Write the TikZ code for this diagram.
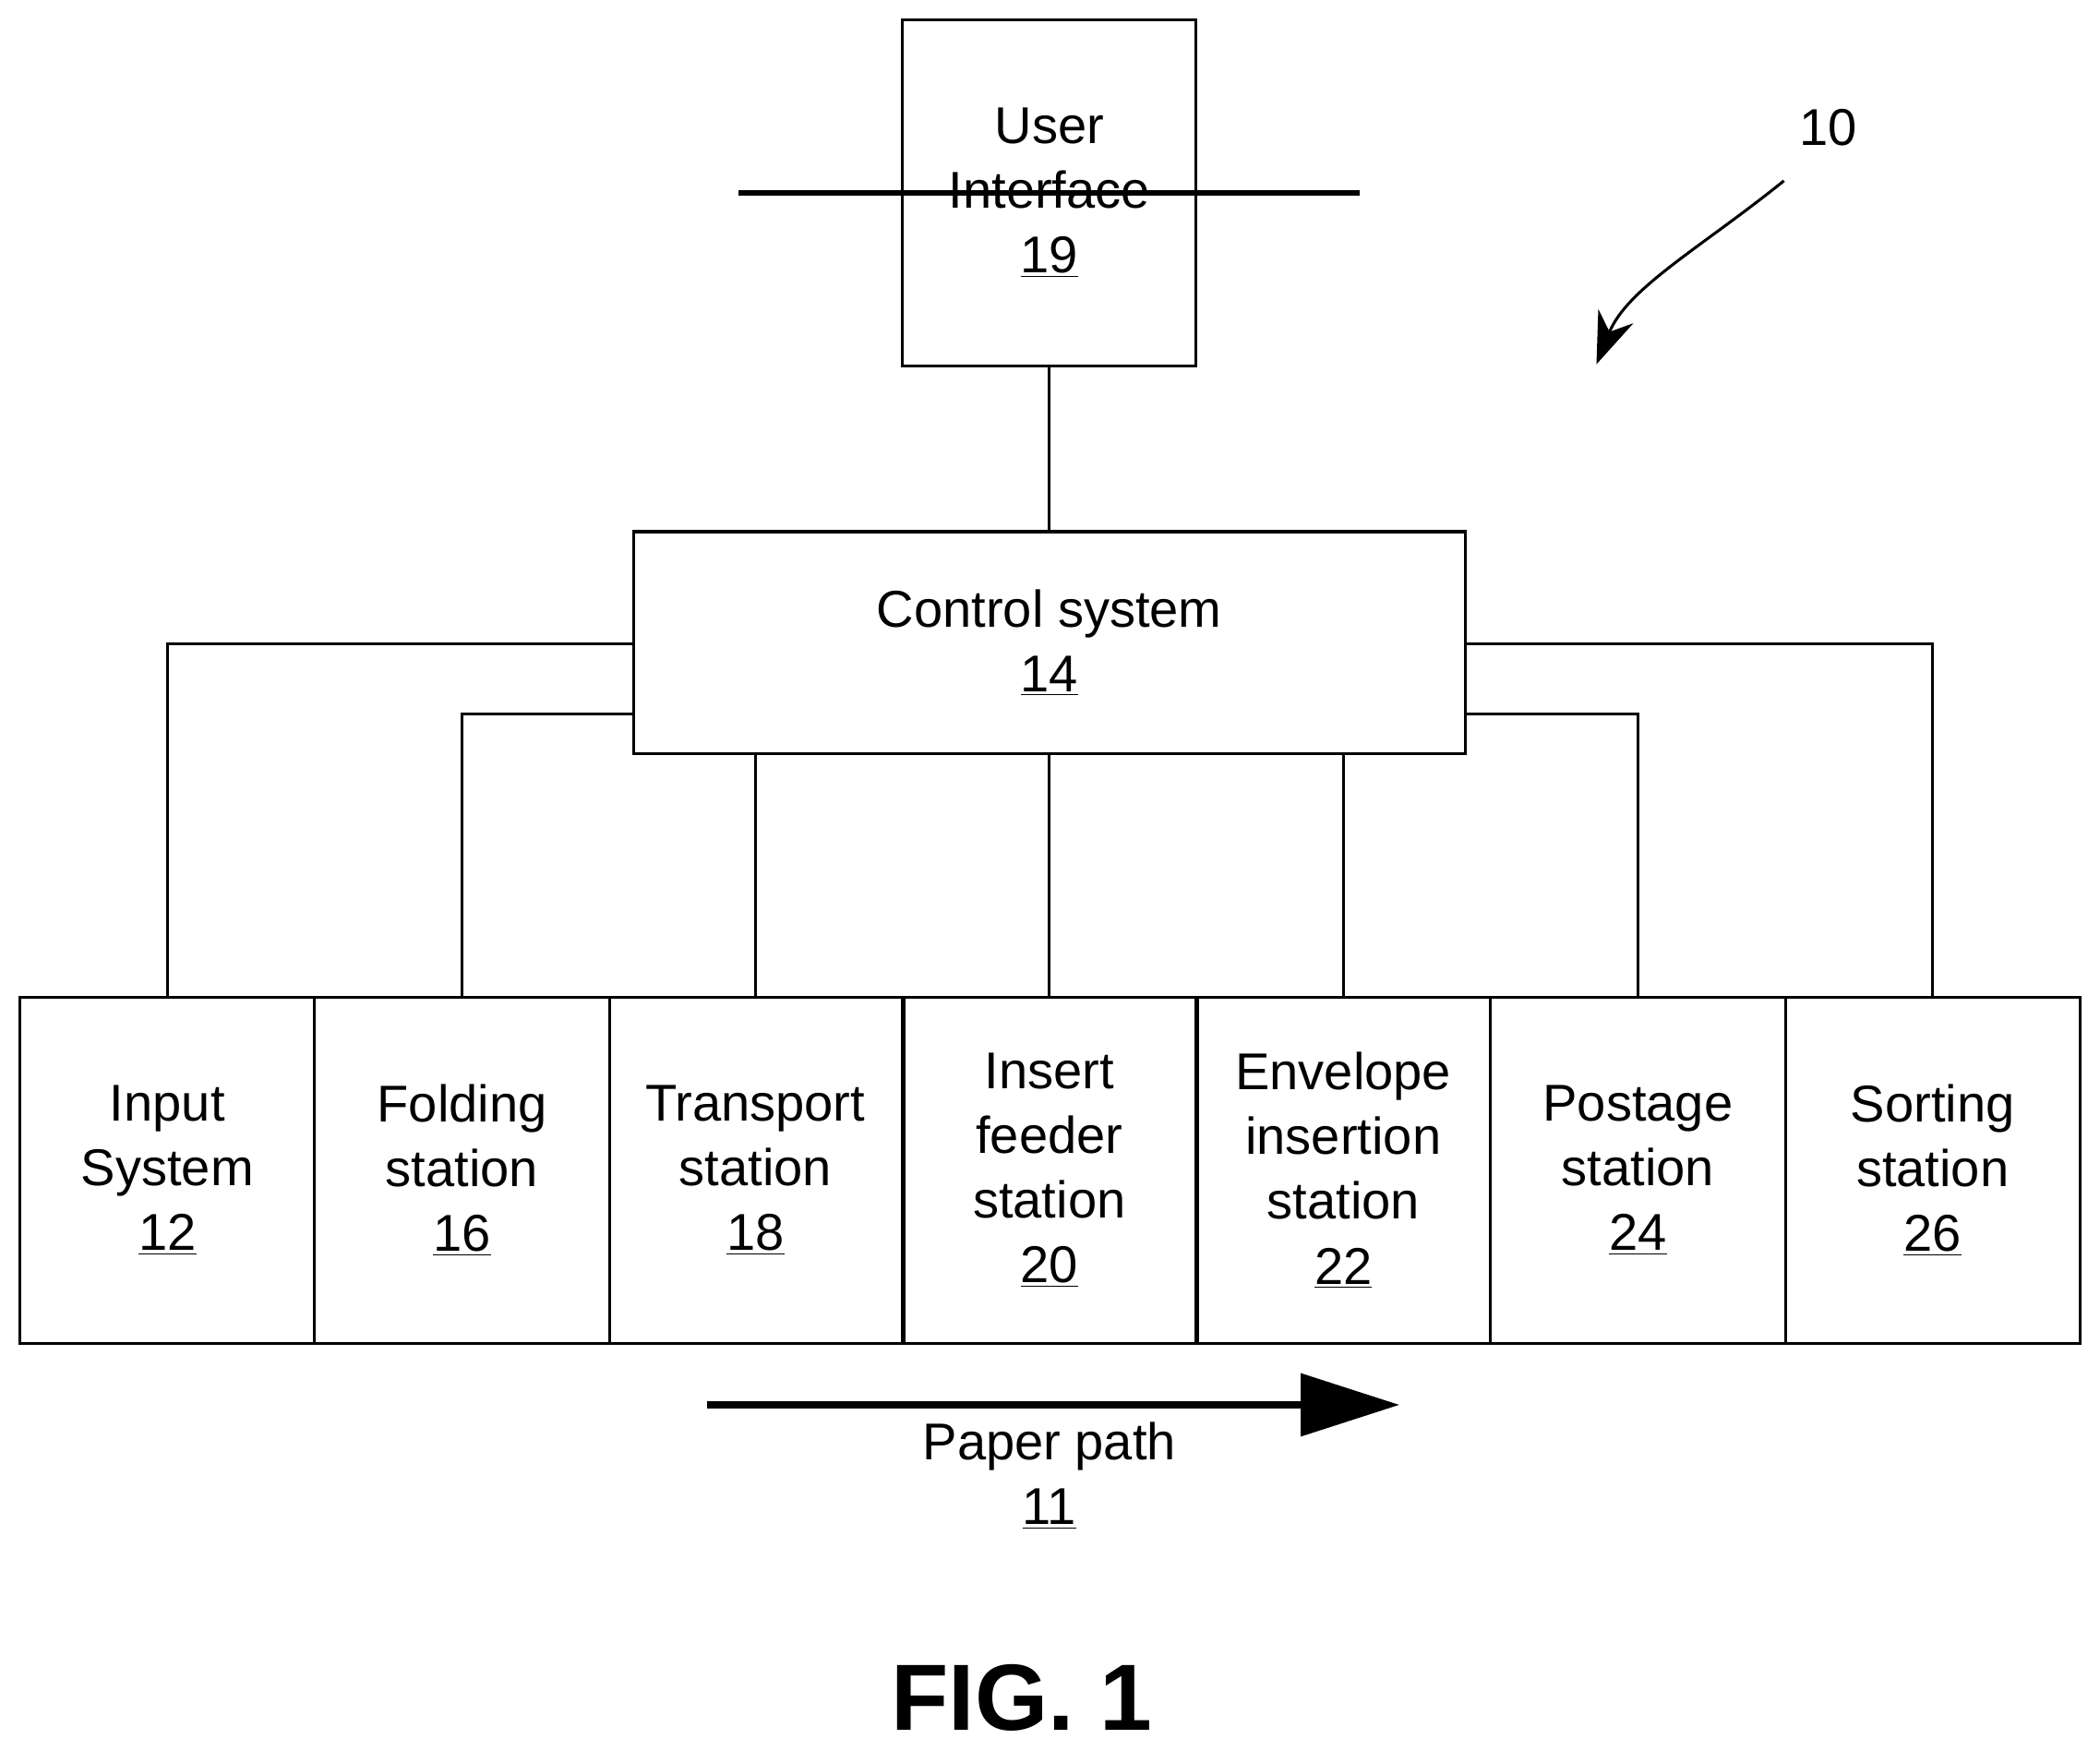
\documentclass[tikz,border=0pt]{standalone}
\usepackage{fontspec}
\setmainfont{Liberation Sans}
\usetikzlibrary{arrows.meta}
\begin{document}
\begin{tikzpicture}[x=0.02cm, y=-0.02cm,
	box/.style={draw, line width=1.2pt, inner sep=0pt, align=center,
		font=\fontsize{22}{27.5}\selectfont},
	txt/.style={align=center, font=\fontsize{22}{27.5}\selectfont}]
	\useasboundingbox (0,0) rectangle (1568,1307);
	\node[box, minimum width=219\pgflinewidth, text width=200] (UI) at (783.5,144) {};
	\draw[line width=1.2pt] (674,15) rectangle (893,273);
	\node[txt] (UIt) at (783.5,144) {User\\Interface\\\underline{19}};
	\draw[line width=1.2pt] (473,397) rectangle (1094,563);
	\node[txt] (CS) at (783.5,480) {Control system\\\underline{14}};
	\node[txt] (A) at (125,874) {Input\\System\\\underline{12}};
	\node[txt] (B) at (345,874) {Folding\\station\\\underline{16}};
	\node[txt] (C) at (564,874) {Transport\\station\\\underline{18}};
	\node[txt] (D) at (783.5,874) {Insert\\feeder\\station\\\underline{20}};
	\node[txt] (E) at (1003,874) {Envelope\\insertion\\station\\\underline{22}};
	\node[txt] (F) at (1223,874) {Postage\\station\\\underline{24}};
	\node[txt] (G) at (1443,874) {Sorting\\station\\\underline{26}};
	\foreach \x in {15,235,455,674,893,1113,1333}
		\draw[line width=1.2pt] (\x,745) rectangle ++(220,258);

	\draw[line width=1.2pt] (783.5,273) -- (783.5,397);
	\draw[line width=1.2pt] (473,481) -| (125,745);
	\draw[line width=1.2pt] (473,533) -| (345,745);
	\draw[line width=1.2pt] (1094,481) -| (1443,745);
	\draw[line width=1.2pt] (1094,533) -| (1223,745);
	\foreach \x in {564,783.5,1003}
		\draw[line width=1.2pt] (\x,563) -- (\x,745);

	\coordinate (P1) at (528,1049);
	\coordinate (P2) at (1045,1049);
	\draw[line width=3.5pt, -{Triangle[length=42, width=26]}] (P1) -- (P2);
	\node[txt] (PP) at (783.5,1102) {Paper path\\\underline{11}};

	\node[txt] (REF) at (1365,95) {10};
	\coordinate (R1) at (1332,135);
	\coordinate (R2) at (1192,272);
	\draw[line width=1.2pt, -{Stealth[length=22, width=16]}] (R1) .. controls (1270,185) and (1215,215) .. (R2);

	\node[font=\fontsize{40}{48}\selectfont\bfseries] (FIG) at (763,1268) {FIG. 1};
\end{tikzpicture}
\end{document}
